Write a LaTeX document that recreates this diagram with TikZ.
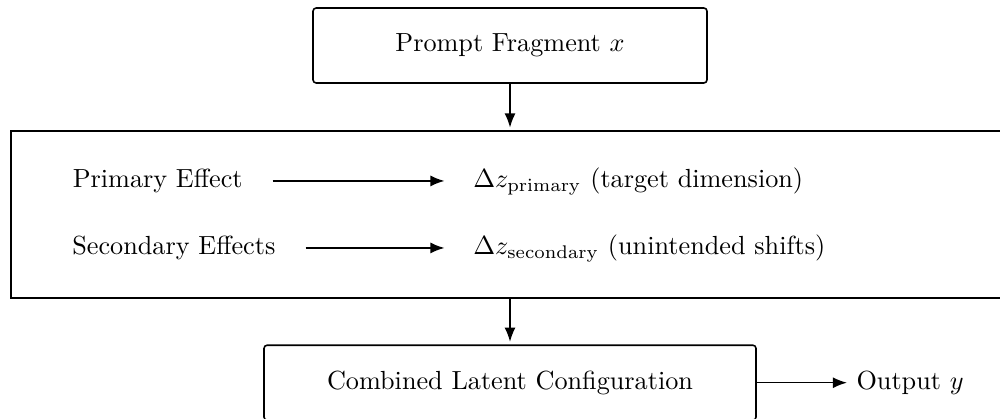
\documentclass[tikz,border=0pt]{standalone}
\usetikzlibrary{arrows.meta}
\begin{document}
\begin{tikzpicture}[x=0.3815pt,y=-0.3815pt, semithick,
  box/.style={draw, rounded corners=1.2pt, minimum height=28.6pt, inner sep=0pt},
  frame/.style={draw, inner sep=0pt},
  label/.style={inner sep=0pt, anchor=base west},
  flow/.style={-{Latex[length=5.4pt,width=4.2pt]}},
  rowflow/.style={flow, shorten <=11.2pt, shorten >=10.7pt}]
\useasboundingbox (0,0) rectangle (1000,418);

% stages
\node[box, minimum width=150.3pt] (prompt) at (510,45.5) {Prompt Fragment $x$};
\node[frame, minimum width=380.7pt, minimum height=63.7pt] (effects) at (510,214.5) {};
\node[box, minimum width=187.7pt] (comb) at (510,382.7) {Combined Latent Configuration};
\node[anchor=base west] (out) at (847,389.2) {Output $y$};

% effects inside the middle frame
\node[label] (prim) at (72,187.5) {Primary Effect};
\node[label] (sec) at (71.6,254.5) {Secondary Effects};
\node[label] (dprim) at (472.6,187.5) {$\Delta z_{\mathrm{primary}}$ (target dimension)};
\node[label] (dsec) at (472.6,254.5) {$\Delta z_{\mathrm{secondary}}$ (unintended shifts)};

% connectors
\draw[flow, shorten >=1pt] (prompt.south) -- (effects.north);
\draw[flow, shorten >=1pt] (effects.south) -- (comb.north);
\draw[rowflow] (prim.east) -- (prim.east -| dprim.west);
\draw[rowflow] (sec.east) -- (sec.east -| dsec.west);
\draw[flow] (comb.east) -- (comb.east -| out.west);
\end{tikzpicture}
\end{document}
